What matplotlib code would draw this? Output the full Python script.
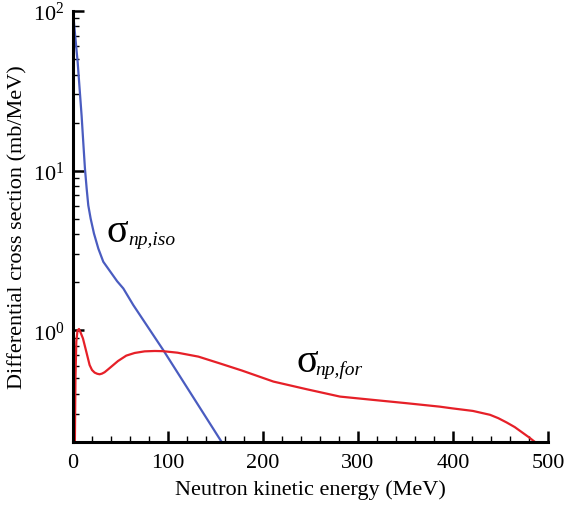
import matplotlib
matplotlib.use('Agg')
import matplotlib.pyplot as plt
import matplotlib.ticker as mticker

plt.rcParams['font.family'] = ['Liberation Serif', 'DejaVu Serif']
plt.rcParams['mathtext.fontset'] = 'stix'

# isotropic part (blue)
iso_energy = [0.3, 1.4, 4.9, 9.1, 11.0, 12.6, 14.4, 16.1, 18.6, 22.1, 26.7, 31.9, 40.7, 46.5, 53.0, 63.5, 95.0, 156.5]
iso_sigma = [96.0, 80.0, 48.0, 22.0, 14.5, 10.3, 7.72, 6.07, 5.01, 4.04, 3.25, 2.69, 2.27, 2.03, 1.83, 1.44, 0.753, 0.2]

# forward part (red)
for_energy = [2.0, 2.6, 3.5, 4.8, 6.3, 8.0, 10.5, 14.0, 17.5, 20.0, 22.8, 25.5, 28.0, 30.5, 33.3, 36.5,
              40.4, 47.4, 56.1, 64.9, 75.4, 86.0, 94.7, 110.0, 132.0, 155.0, 178.0, 211.0, 246.0,
              281.0, 316.0, 351.0, 386.0, 399.0, 421.0, 439.0, 447.7, 456.5, 465.0, 474.0, 480.0, 486.3]
for_sigma = [0.2, 0.5, 0.85, 1.0, 1.02, 0.97, 0.89, 0.736, 0.607, 0.565, 0.544, 0.535, 0.531, 0.536, 0.547, 0.567,
             0.593, 0.643, 0.695, 0.722, 0.739, 0.743, 0.741, 0.725, 0.685, 0.62, 0.56, 0.478, 0.428,
             0.385, 0.367, 0.35, 0.333, 0.325, 0.313, 0.296, 0.282, 0.265, 0.248, 0.227, 0.214, 0.2]

fig = plt.figure(figsize=(5.64, 5.06), dpi=100)
ax = fig.add_axes([0.1294, 0.1245, 0.8422, 0.8518])

ax.plot(iso_energy, iso_sigma, color='#4a5cc0', lw=1.6)
ax.plot(for_energy, for_sigma, color='#e62028', lw=1.6)

ax.set_yscale('log')
ax.set_xlim(0, 500)
ax.set_ylim(0.2, 100)

ax.xaxis.set_major_locator(mticker.MultipleLocator(100))
ax.xaxis.set_minor_locator(mticker.MultipleLocator(20))
ax.yaxis.set_major_locator(mticker.LogLocator(base=10, numticks=10))
ax.yaxis.set_minor_locator(mticker.LogLocator(base=10, subs=range(2, 10), numticks=20))
ax.yaxis.set_minor_formatter(mticker.NullFormatter())

for s in ['top', 'right']:
    ax.spines[s].set_visible(False)
for s in ['left', 'bottom']:
    ax.spines[s].set_linewidth(2.2)

ax.tick_params(which='major', direction='in', length=8, width=1.8, labelsize=16, pad=6)
ax.tick_params(which='minor', direction='in', length=4, width=1.0)
ax.tick_params(axis='x', which='major', pad=8)

ax.set_xlabel('Neutron kinetic energy (MeV)', fontsize=16, labelpad=5)
ax.set_ylabel('Differential cross section (mb/MeV)', fontsize=16, labelpad=4)

# curve labels: big sigma + italic subscript
ax.text(35.8, 3.65, 'σ', fontsize=29, va='baseline')
ax.text(58.5, 3.45, 'np,iso', fontsize=14, style='italic', va='baseline')
ax.text(235.5, 0.554, 'σ', fontsize=29, va='baseline')
ax.text(255.5, 0.531, 'np,for', fontsize=14, style='italic', va='baseline')

fig.savefig('out.png', dpi=100)
